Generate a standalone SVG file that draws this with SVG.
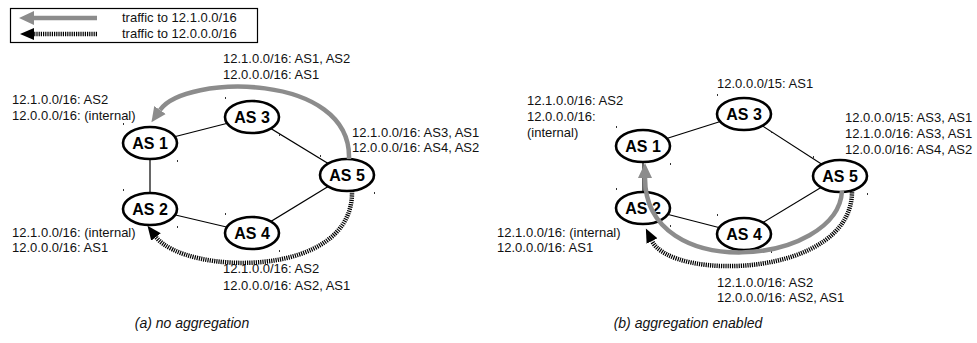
<svg xmlns="http://www.w3.org/2000/svg" width="977" height="343" viewBox="0 0 977 343">
<defs>
<style>
.lbl{font-family:"Liberation Sans",Arial,Helvetica,sans-serif;font-size:13px;fill:#111}
.cap{font-family:"Liberation Sans",Arial,Helvetica,sans-serif;font-size:14px;font-style:italic;fill:#111;text-anchor:middle}
.nd ellipse{fill:#fff;stroke:#000;stroke-width:2.6}
.nd text{font-family:"Liberation Sans",Arial,Helvetica,sans-serif;font-size:16px;font-weight:bold;fill:#000;text-anchor:middle}
.nd rect{fill:#333}
.edge{stroke:#000;stroke-width:1.2;fill:none}
.gray{stroke:#8c8c8c;stroke-width:4.5;fill:none;marker-end:url(#ga)}
.dash{stroke:#000;stroke-width:4.5;stroke-dasharray:1.2 1;fill:none;marker-end:url(#ba)}
</style>
<marker id="ga" markerUnits="userSpaceOnUse" markerWidth="18" markerHeight="16" refX="0" refY="7" orient="auto" viewBox="0 0 18 14">
<path d="M0,0 L15,7 L0,14 z" fill="#8c8c8c"/>
</marker>
<marker id="ba" markerUnits="userSpaceOnUse" markerWidth="18" markerHeight="16" refX="0" refY="6" orient="auto" viewBox="0 0 18 12">
<path d="M0,0 L14,6 L0,12 z" fill="#000"/>
</marker>
</defs>
<rect width="977" height="343" fill="#fff"/>

<g id="legend">
<rect x="10.5" y="8.5" width="247" height="34" fill="#fff" stroke="#000" stroke-width="1.2"/>
<line x1="97" y1="18" x2="34" y2="18" class="gray"/>
<line x1="97" y1="34" x2="34" y2="34" class="dash"/>
<text x="122" y="22" class="lbl">traffic to 12.1.0.0/16</text>
<text x="122" y="38" class="lbl">traffic to 12.0.0.0/16</text>
</g>

<g id="edges">
<line x1="150" y1="143" x2="252" y2="117" class="edge"/>
<line x1="252" y1="117" x2="347" y2="175" class="edge"/>
<line x1="150" y1="143" x2="150" y2="209" class="edge"/>
<line x1="150" y1="209" x2="252" y2="233" class="edge"/>
<line x1="252" y1="233" x2="347" y2="175" class="edge"/>
<line x1="643" y1="146" x2="744" y2="114" class="edge"/>
<line x1="744" y1="114" x2="840" y2="176" class="edge"/>
<line x1="643" y1="146" x2="643" y2="208" class="edge"/>
<line x1="643" y1="208" x2="744" y2="234" class="edge"/>
<line x1="744" y1="234" x2="840" y2="176" class="edge"/>
</g>

<g id="a-as1" class="nd"><ellipse cx="150" cy="143" rx="27" ry="16"/><text x="150" y="149">AS 1</text><rect x="123" y="123" width="1" height="2"/><rect x="177" y="160" width="1" height="2"/></g>
<g id="a-as2" class="nd"><ellipse cx="150" cy="209" rx="27" ry="16"/><text x="150" y="215">AS 2</text><rect x="123" y="189" width="1" height="2"/><rect x="177" y="226" width="1" height="2"/></g>
<g id="a-as3" class="nd"><ellipse cx="252" cy="117" rx="27" ry="16"/><text x="252" y="123">AS 3</text><rect x="225" y="97" width="1" height="2"/><rect x="279" y="134" width="1" height="2"/></g>
<g id="a-as4" class="nd"><ellipse cx="252" cy="233" rx="27" ry="16"/><text x="252" y="239">AS 4</text><rect x="225" y="213" width="1" height="2"/><rect x="279" y="250" width="1" height="2"/></g>
<g id="a-as5" class="nd"><ellipse cx="347" cy="175" rx="27" ry="16"/><text x="347" y="181">AS 5</text><rect x="320" y="155" width="1" height="2"/><rect x="374" y="192" width="1" height="2"/></g>

<g id="b-as1" class="nd"><ellipse cx="643" cy="146" rx="27" ry="16"/><text x="643" y="152">AS 1</text><rect x="616" y="126" width="1" height="2"/><rect x="670" y="163" width="1" height="2"/></g>
<g id="b-as2" class="nd"><ellipse cx="643" cy="208" rx="27" ry="16"/><text x="643" y="214">AS 2</text><rect x="616" y="188" width="1" height="2"/><rect x="670" y="225" width="1" height="2"/></g>
<g id="b-as3" class="nd"><ellipse cx="744" cy="114" rx="27" ry="16"/><text x="744" y="120">AS 3</text><rect x="717" y="94" width="1" height="2"/><rect x="771" y="131" width="1" height="2"/></g>
<g id="b-as4" class="nd"><ellipse cx="744" cy="234" rx="27" ry="16"/><text x="744" y="240">AS 4</text><rect x="717" y="214" width="1" height="2"/><rect x="771" y="251" width="1" height="2"/></g>
<g id="b-as5" class="nd"><ellipse cx="840" cy="176" rx="27" ry="16"/><text x="840" y="182">AS 5</text><rect x="813" y="156" width="1" height="2"/><rect x="867" y="193" width="1" height="2"/></g>

<g id="connectors">
<path d="M349 159 C352 72 185 74 160 110" class="gray"/>
<path d="M352 191 C354 280 185 275 156 237" class="dash"/>
<path d="M842 191 C838 265 645 285 645 178" class="gray"/>
<path d="M852 190 C854 278 672 282 652 241" class="dash"/>
</g>

<g id="labels">
<text x="223" y="63" class="lbl">12.1.0.0/16: AS1, AS2</text>
<text x="223" y="79" class="lbl">12.0.0.0/16: AS1</text>
<text x="12" y="104" class="lbl">12.1.0.0/16: AS2</text>
<text x="12" y="120" class="lbl">12.0.0.0/16: (internal)</text>
<text x="352" y="137" class="lbl">12.1.0.0/16: AS3, AS1</text>
<text x="352" y="152" class="lbl">12.0.0.0/16: AS4, AS2</text>
<text x="12" y="237" class="lbl">12.1.0.0/16: (internal)</text>
<text x="12" y="252" class="lbl">12.0.0.0/16: AS1</text>
<text x="223" y="273" class="lbl">12.1.0.0/16: AS2</text>
<text x="223" y="290" class="lbl">12.0.0.0/16: AS2, AS1</text>

<text x="717" y="88" class="lbl">12.0.0.0/15: AS1</text>
<text x="527" y="105" class="lbl">12.1.0.0/16: AS2</text>
<text x="527" y="121" class="lbl">12.0.0.0/16:</text>
<text x="527" y="137" class="lbl">(internal)</text>
<text x="845" y="122" class="lbl">12.0.0.0/15: AS3, AS1</text>
<text x="845" y="138" class="lbl">12.1.0.0/16: AS3, AS1</text>
<text x="845" y="154" class="lbl">12.0.0.0/16: AS4, AS2</text>
<text x="497" y="237" class="lbl">12.1.0.0/16: (internal)</text>
<text x="497" y="252" class="lbl">12.0.0.0/16: AS1</text>
<text x="717" y="287" class="lbl">12.1.0.0/16: AS2</text>
<text x="717" y="302" class="lbl">12.0.0.0/16: AS2, AS1</text>

<text x="192" y="328" class="cap">(a) no aggregation</text>
<text x="688" y="328" class="cap">(b) aggregation enabled</text>
</g>
</svg>
